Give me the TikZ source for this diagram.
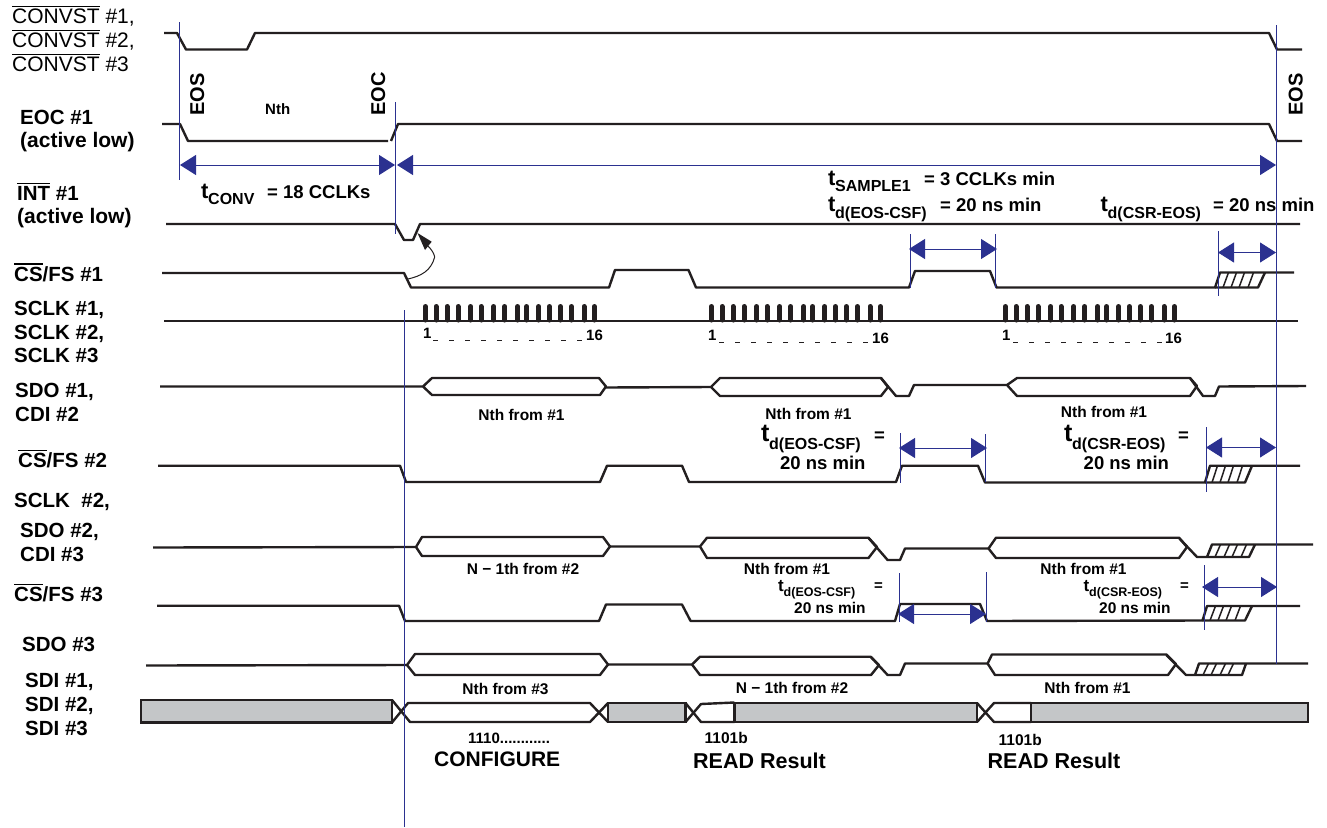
\documentclass[tikz,border=0pt]{standalone}
\usepackage{fontspec}
\setmainfont{Liberation Sans}
\usetikzlibrary{arrows.meta}
\definecolor{ink}{HTML}{231F20}
\definecolor{dimblue}{HTML}{2B3190}
\definecolor{busgray}{HTML}{C4C6C8}
\newcommand\ovl[1]{\setbox0=\hbox{#1}\rlap{\raisebox{\dimexpr\ht0+1.8pt}{\rule{\wd0}{1.4pt}}}\box0\relax}
\newcommand\hatchrow[3]{\foreach \hx in {#1} \draw[hatchline] (\hx,#2) -- ({\hx+5.5},#3);}
\newcommand\clockrow[2]{\foreach \cx in {425.3,436,447,458,470.7,481,493.7,504.7,517.7,526.7,538.7,549.3,560.3,571.3,584,594.3} \draw[clockbar] ({\cx+#1},306.5) -- ({\cx+#1},320);
\foreach \dx in {0,16,...,144} \draw[dashmark] ({433+#1+\dx},#2) -- ++(5,0);}
\tikzset{
  x=1pt,y=-1pt,
  sig/.style={draw=ink,line width=2.4pt,line join=round},
  hatchline/.style={draw=ink,line width=1.5pt},
  clockbar/.style={draw=ink,line width=5pt,line cap=round},
  dashmark/.style={draw=ink,line width=0.9pt},
  bluev/.style={draw=dimblue,line width=1pt},
  dimarrow/.style={draw=dimblue,line width=1pt,{Triangle[length=16pt,width=20pt,fill=dimblue]}-{Triangle[length=16pt,width=20pt,fill=dimblue]}},
  grayblock/.style={fill=busgray,draw=ink,line width=2.4pt},
  b/.style={inner sep=0,anchor=base west,font=\bfseries\fontsize{#1}{#1}\selectfont},
  bc/.style={inner sep=0,anchor=base,font=\bfseries\fontsize{#1}{#1}\selectfont},
  r/.style={inner sep=0,anchor=base west,font=\fontsize{#1}{#1}\selectfont},
  rot/.style={inner sep=0,anchor=base west,rotate=90,font=\bfseries\fontsize{#1}{#1}\selectfont},
}
\begin{document}
\begin{tikzpicture}
\fill[white] (0,0) rectangle (1327,827);
\useasboundingbox (0,0) rectangle (1327,827);
% left labels
\node[r=21] at (12,23.5) {\ovl{CONVST} \#1,};
\node[r=21] at (12,47.5) {\ovl{CONVST} \#2,};
\node[r=21] at (12,71.5) {\ovl{CONVST} \#3};
\node[b=20.5] at (20,124) {EOC \#1};
\node[b=21] at (20,147) {(active low)};
\node[b=20.5] at (17,200) {\ovl{INT} \#1};
\node[b=21] at (17,223) {(active low)};
\node[b=20.5] at (14,281) {\ovl{CS}/FS \#1};
\node[b=20.5] at (14,315) {SCLK \#1,};
\node[b=20.5] at (14,339) {SCLK \#2,};
\node[b=20.5] at (14,362.5) {SCLK \#3};
\node[b=20.5] at (15,397.5) {SDO \#1,};
\node[b=20.5] at (15,421.5) {CDI \#2};
\node[b=20.5] at (18,467.5) {\ovl{CS}/FS \#2};
\node[b=20.5] at (14,507.5) {SCLK\ \ \#2,};
\node[b=20.5] at (20,537.5) {SDO \#2,};
\node[b=20.5] at (20,561.5) {CDI \#3};
\node[b=20.5] at (14,601.5) {\ovl{CS}/FS \#3};
\node[b=20.5] at (22,651.5) {SDO \#3};
\node[b=20.5] at (25,687) {SDI \#1,};
\node[b=20.5] at (25,711.5) {SDI \#2,};
\node[b=20.5] at (25,735.5) {SDI \#3};
% gray blocks
\draw[grayblock] (141,700) rectangle (392,722.5);
\draw[grayblock] (608,703) rectangle (685.5,722);
\draw[grayblock] (734.5,703) rectangle (977,722);
\draw[grayblock] (1031,703) rectangle (1308,722);
\draw[sig] (392,700) -- (410,722) -- (590,722) -- (608,703);
\draw[sig] (392,722.5) -- (408,703) -- (590,703) -- (608,722);
\draw[sig] (685.5,703) -- (701,722) -- (734.5,722);
\draw[sig] (685.5,722) -- (701,704) -- (734.5,702.5);
\draw[sig] (977,703) -- (994,722) -- (1031,722);
\draw[sig] (977,722) -- (994,703) -- (1031,703);
% signals
\draw[sig] (164,33) -- (177,33) -- (186,49.5) -- (247,49.5) -- (255,33) -- (1269,33) -- (1277,49.5) -- (1302,49.5);
\draw[sig] (162,124) -- (180,124) -- (188,141) -- (388,141);
\draw[sig] (391,141) -- (398,124) -- (1269,124) -- (1277,141) -- (1302,141);
\draw[sig] (166,224) -- (395,224) -- (404,240) -- (413,240) -- (420,224) -- (1300,224);
\draw[sig] (162,273) -- (404,273) -- (411,287.5) -- (609,287.5) -- (615,270) -- (688.5,270) -- (696,287.5) -- (909,287.5) -- (915,271) -- (990,271) -- (996.5,287.5) -- (1215,287.5) -- (1220,272.5) -- (1294,272.5);
\draw[sig] (1215,287.5) -- (1258,287.5) -- (1265,272.5);
\hatchrow{1223,1231,1239,1248}{287.5}{272.5}
% SCLK
\draw[sig] (164,321) -- (1298,321);
\clockrow{0}{340}
\clockrow{286}{342}
\clockrow{580}{342}
\node[b=15] at (423,338) {1};
\node[b=15] at (586,340) {16};
\node[b=15] at (708,340) {1};
\node[b=15] at (872,343) {16};
\node[b=15] at (1002,340) {1};
\node[b=15] at (1165,343) {16};
% SDO #1
\draw[sig] (160,386.5) -- (423,386.5) -- (432,378) -- (599,378) -- (606,386.5) -- (600,395) -- (432,395) -- (423,386.5);
\draw[sig] (606,387.5) -- (711,387) -- (720,378) -- (881,378) -- (888,387) -- (881,396) -- (720,396) -- (711,387);
\draw[sig] (881,378) -- (896,396) -- (909,396) -- (914,385) -- (1007,385) -- (1017,378) -- (1190,378) -- (1197,386) -- (1190,396) -- (1017,396) -- (1007,385);
\draw[sig] (1190,378) -- (1203,396) -- (1215,396) -- (1219,386.5) -- (1306,386);
\node[bc=15.5] at (521.5,420) {Nth from \#1};
\node[bc=15.5] at (808.5,419) {Nth from \#1};
\node[bc=15.5] at (1104,417.5) {Nth from \#1};
% CS/FS #2
\draw[sig] (158,465.7) -- (400,465.7) -- (406,482) -- (600,482) -- (607,465.7) -- (682,465.7) -- (689,482) -- (896,482) -- (902,465.7) -- (978,465.7) -- (985,482.5) -- (1205,482.5) -- (1210,465.7) -- (1300,465.7);
\draw[sig] (1205,482.5) -- (1245,482.5) -- (1252,465.7);
\hatchrow{1212,1220,1228,1237}{482.5}{465.7}
% SDO #2
\draw[sig] (153,547.5) -- (416,547) -- (422,537) -- (603,537) -- (610,546.5) -- (603,556) -- (422,556) -- (416,547);
\draw[sig] (610,546.5) -- (700,546.5) -- (707,537.7) -- (868.5,537.7) -- (877,547) -- (868.5,558) -- (707,558) -- (700,546.5);
\draw[sig] (868.5,538) -- (887.6,560) -- (900,560) -- (905,548.5) -- (988.5,548.5) -- (996,537.7) -- (1179,537.7) -- (1187,547) -- (1179,558) -- (996,558) -- (988.5,548.5);
\draw[sig] (1179,538) -- (1197,557) -- (1249,557) -- (1255,544.5);
\draw[sig] (1207,557) -- (1212,544.5) -- (1313,544.5);
\hatchrow{1215,1224,1232,1241}{557}{544.5}
\node[bc=15.5] at (523,574) {N − 1th from \#2};
\node[bc=15.5] at (787,574) {Nth from \#1};
\node[bc=15.5] at (1083.5,574) {Nth from \#1};
% CS/FS #3
\draw[sig] (157,605.7) -- (399,605.7) -- (405,621) -- (599,621) -- (606,604.5) -- (682,604.5) -- (690.6,621) -- (895,621) -- (900,604) -- (980,604) -- (987,621) -- (1202.5,620.5) -- (1207,606) -- (1300,606);
\draw[sig] (1202.5,620.5) -- (1245,620.5) -- (1252,606);
\hatchrow{1210,1218,1226,1235}{620.5}{606}
% SDO #3
\draw[sig] (146,665.5) -- (407,665) -- (415,654) -- (600,654) -- (608,664.5) -- (600,675) -- (415,675) -- (407,665);
\draw[sig] (608,664.5) -- (692,664.5) -- (700,656.7) -- (870.6,656.7) -- (879,665) -- (871,675) -- (700,675) -- (692,664.5);
\draw[sig] (871,657) -- (887.6,675) -- (900,675) -- (905,663.5) -- (987.6,663.5) -- (992,654.5) -- (1166.4,654.5) -- (1176,664) -- (1168,675) -- (995,675) -- (987.6,663.5);
\draw[sig] (1166.4,655) -- (1186,675) -- (1242,675) -- (1246,663.5);
\draw[sig] (1195,675) -- (1199,663.5) -- (1308,663.5);
\hatchrow{1203,1211,1220,1228}{675}{663.5}
\node[bc=15.5] at (505.5,694) {Nth from \#3};
\node[bc=15.5] at (792,693) {N − 1th from \#2};
\node[bc=15.5] at (1087.5,693) {Nth from \#1};
% blue verticals
\coordinate (eosT) at (179,22); \coordinate (eosB) at (179,180);
\coordinate (eocT) at (395.5,102); \coordinate (eocB) at (395.5,234);
\coordinate (rT) at (1276.6,25); \coordinate (rB) at (1276.6,664);
\coordinate (csT) at (404,310); \coordinate (csB) at (404,827);
\draw[bluev] (eosT) -- (eosB);
\draw[bluev] (eocT) -- (eocB);
\draw[bluev] (rT) -- (rB);
\draw[bluev] (csT) -- (csB);
\draw[bluev] (910,234) -- (910,288);
\draw[bluev] (995,234) -- (995,288);
\draw[bluev] (1218,231) -- (1218,296);
\draw[bluev] (900.5,433) -- (900.5,483);
\draw[bluev] (985.5,434) -- (985.5,482);
\draw[bluev] (1206,427) -- (1206,492);
\draw[bluev] (899.6,573) -- (899.6,622);
\draw[bluev] (986,572) -- (986,622);
\draw[bluev] (1204,565) -- (1204,630);
% dimension arrows
\draw[dimarrow] (180,165) -- (395,165);
\draw[dimarrow] (397,165) -- (1276,165);
\draw[dimarrow] (909,249) -- (997,249);
\draw[dimarrow] (1218,252.5) -- (1276,252.5);
\draw[dimarrow] (899,448) -- (987,448);
\draw[dimarrow] (1206,447.5) -- (1276,447.5);
\draw[dimarrow] (898,614) -- (986,614);
\draw[dimarrow] (1202,587) -- (1277,587);
% CS to INT causal arrow
\coordinate (csedge) at (408,279);
\coordinate (inttip) at (417.5,233);
\coordinate (headbase) at (428,246);
\draw[draw=ink,line width=1pt] (csedge) .. controls (421,276) and (431,271) .. (434.7,257) .. controls (434,253) and (431,249) .. (headbase);
\fill[ink] (inttip) -- (431.7,241.7) -- (425,250) -- cycle;
% rotated labels
\node[rot=20] at (204,116) {EOS};
\node[rot=20] at (385,116) {EOC};
\node[rot=20] at (1302.5,116) {EOS};
\node[b=15] at (265,114) {Nth};
% timing labels
\node[b=22] at (201,198) {t};
\node[b=16] at (208,204) {CONV};
\node[b=18.5] at (267,198) {= 18 CCLKs};
\node[b=22] at (828,185) {t};
\node[b=16] at (835,191) {SAMPLE1};
\node[b=18.5] at (924,185) {= 3 CCLKs min};
\node[b=22] at (828,211.5) {t};
\node[b=16] at (835,218) {d(EOS-CSF)};
\node[b=18.5] at (940,211) {= 20 ns min};
\node[b=22] at (1100.5,211.5) {t};
\node[b=16] at (1107.5,218) {d(CSR-EOS)};
\node[b=18.5] at (1213,211) {= 20 ns min};
% row 2 timing labels
\node[b=25] at (761,441.5) {t};
\node[b=16] at (769,449) {d(EOS-CSF)};
\node[b=18.5] at (874,441) {=};
\node[b=18.5] at (780,469) {20 ns min};
\node[b=25] at (1064,441.5) {t};
\node[b=16] at (1072,449) {d(CSR-EOS)};
\node[b=18.5] at (1178,441) {=};
\node[b=18.5] at (1083.5,469) {20 ns min};
% row 3 timing labels
\node[b=17] at (778,591.5) {t};
\node[b=12.5] at (783.5,596) {d(EOS-CSF)};
\node[b=15] at (874,590) {=};
\node[b=15.5] at (794,613) {20 ns min};
\node[b=17] at (1083.5,591.5) {t};
\node[b=12.5] at (1089,596) {d(CSR-EOS)};
\node[b=15] at (1180,590) {=};
\node[b=15.5] at (1099,613) {20 ns min};
% bottom labels
\node[b=15] at (468,743) {1110............};
\node[b=21] at (434,766.5) {CONFIGURE};
\node[b=15.5] at (704.5,743) {1101b};
\node[b=21.5] at (693,768) {READ Result};
\node[b=15.5] at (998.5,745) {1101b};
\node[b=21.5] at (987.5,768) {READ Result};
\end{tikzpicture}
\end{document}
